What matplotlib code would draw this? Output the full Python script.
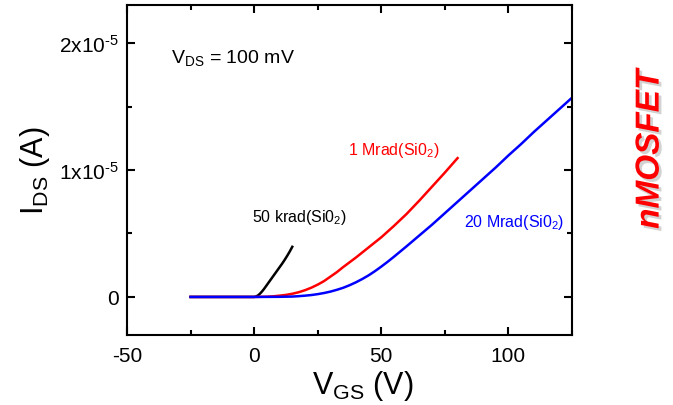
import numpy as np
import matplotlib
matplotlib.use('Agg')
import matplotlib.pyplot as plt
import matplotlib.patheffects as pe
from matplotlib.ticker import MultipleLocator, FixedLocator, FixedFormatter

plt.rcParams['font.family'] = ['Liberation Sans', 'DejaVu Sans']
plt.rcParams['mathtext.fontset'] = 'custom'
plt.rcParams['mathtext.rm'] = 'Liberation Sans'
plt.rcParams['mathtext.it'] = 'Liberation Sans:italic'
plt.rcParams['mathtext.default'] = 'regular'
plt.rcParams['axes.unicode_minus'] = False

# transfer curves, I_DS in units of 1e-5 A
vgs_50k = [-25, 0, 0.5, 1, 1.5, 2, 2.5, 3, 3.5, 4, 5, 6, 7, 8, 9, 10, 11, 12, 13, 14, 15]
ids_50k = [0, 0, 0.002, 0.006, 0.012, 0.02, 0.03, 0.041, 0.053, 0.066, 0.094, 0.122,
           0.15, 0.178, 0.206, 0.234, 0.262, 0.292, 0.324, 0.358, 0.395]

vgs_1M = [-25, 0, 5, 7.5, 10, 12.5, 15, 17.5, 20, 22.5, 25, 27.5, 30, 32.5, 35,
          40, 45, 50, 55, 60, 65, 70, 75, 80]
ids_1M = [0, 0, 0.002, 0.005, 0.01, 0.016, 0.025, 0.037, 0.053, 0.073, 0.097, 0.125,
          0.16, 0.195, 0.235, 0.31, 0.39, 0.47, 0.56, 0.655, 0.76, 0.87, 0.98, 1.094]

vgs_20M = [-25, 0, 10, 15, 17.5, 20, 22.5, 25, 27.5, 30, 32.5, 35, 37.5, 40, 42.5,
           45, 47.5, 50, 52.5, 55, 60, 65, 70, 75, 80, 85, 90, 95, 100, 105, 110, 115,
           120, 125]
ids_20M = [0, 0, 0.001, 0.003, 0.006, 0.01, 0.015, 0.022, 0.031, 0.042, 0.056, 0.072,
           0.092, 0.115, 0.141, 0.17, 0.203, 0.239, 0.277, 0.317, 0.40, 0.485, 0.57,
           0.66, 0.75, 0.84, 0.93, 1.02, 1.115, 1.205, 1.30, 1.39, 1.48, 1.57]

ytick_vals = [0, 1e-5, 2e-5]
ytick_labels = ['0', '1x10$^{\u20105}$', '2x10$^{\u20105}$']

fig = plt.figure(figsize=(6.73, 4.06), dpi=100)
ax = fig.add_axes([0.1887, 0.1724, 0.6612, 0.8126])

ax.plot(vgs_50k, np.array(ids_50k) * 1e-5, color='black', lw=1.8)
ax.plot(vgs_1M, np.array(ids_1M) * 1e-5, color='#ff0000', lw=1.8)
ax.plot(vgs_20M, np.array(ids_20M) * 1e-5, color='#0000ff', lw=1.8)

ax.set_xlim(-50, 125)
ax.set_ylim(-0.3e-5, 2.3e-5)
ax.xaxis.set_major_locator(MultipleLocator(50))
ax.xaxis.set_minor_locator(MultipleLocator(25))
ax.yaxis.set_major_locator(FixedLocator(ytick_vals))
ax.yaxis.set_major_formatter(FixedFormatter(ytick_labels))
ax.yaxis.set_minor_locator(FixedLocator([0.5e-5, 1.5e-5]))

for s in ax.spines.values():
    s.set_linewidth(1.5)
ax.tick_params(which='both', direction='in', top=True, right=True, width=1.5,
               labelsize=15)
ax.tick_params(which='major', length=6)
ax.tick_params(which='minor', length=3.5)
ax.tick_params(axis='x', pad=8)
ax.tick_params(axis='y', pad=6)

ax.set_xlabel('V$_{GS}$ (V)', fontsize=22)
ax.set_ylabel('I$_{DS}$ (A)', fontsize=22)
ax.xaxis.set_label_coords(0.53, -0.1)
ax.yaxis.set_label_coords(-0.168, 0.5)

ax.text(-32.7, 1.85e-5, 'V$_{DS}$ = 100 mV', fontsize=14, va='baseline')
ax.text(-0.8, 0.6e-5, '50 krad(Si0$_2$)', fontsize=11.5, color='black', va='baseline')
ax.text(37, 1.126e-5, '1 Mrad(Si0$_2$)', fontsize=11.5, color='#ff0000', va='baseline')
ax.text(82.7, 0.56e-5, '20 Mrad(Si0$_2$)', fontsize=11.5, color='#0000ff', va='baseline')

fig.text(0.966, 0.63, 'nMOSFET', rotation=90, fontsize=24, fontweight='bold',
         fontstyle='italic', color='#ff0000', ha='center', va='center',
         path_effects=[pe.withSimplePatchShadow(offset=(2, -2), shadow_rgbFace='gray', alpha=0.35)])

fig.savefig('out.png', dpi=100)
